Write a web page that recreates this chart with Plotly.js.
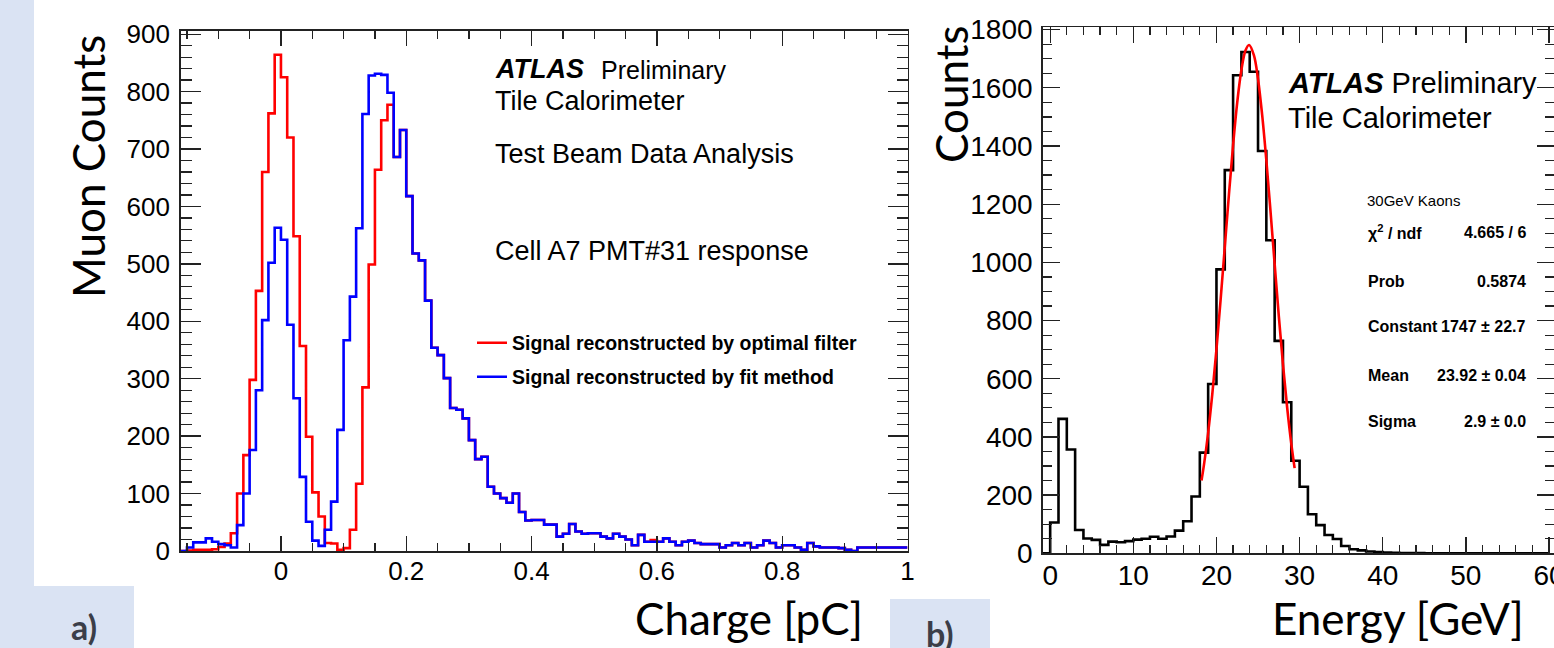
<!DOCTYPE html>
<html>
<head>
<meta charset="utf-8">
<script src="https://cdn.plot.ly/plotly-3.0.1.min.js"></script>
<style>
html,body{margin:0;padding:0;background:#fff;}
#chart{width:1554px;height:648px;}
</style>
</head>
<body>
<div id="chart"></div>
<script>
// ---------------- DATA ----------------
// Panel a: charge histograms, 0.01 pC bins starting at -0.16 pC
const chargeBinStart = -0.16;
const chargeBinWidth = 0.01;
const optimalFilterCounts = [
  0, 1, 2, 2, 2, 3, 7, 13, 31, 100, 167, 298, 453, 660, 762, 864,      // -0.16 .. -0.01
  825, 720, 548, 357, 199, 102, 60, 14, 13, 2,                         // 0.00 .. 0.09
  5, 37, 117, 285, 499, 664, 750, 777, 686, 733,                       // 0.10 .. 0.19
  618, 518, 506, 436, 354, 341, 301, 249, 246, 231,                    // 0.20 .. 0.29
  193, 160, 164, 112, 100, 92, 84, 100, 68, 53,                        // 0.30 .. 0.39
  54, 54, 46, 46, 25, 30, 47, 34, 30, 31,                              // 0.40 .. 0.49
  31, 25, 22, 30, 25, 20, 10, 28, 16, 19,                              // 0.50 .. 0.59
  16, 22, 16, 10, 16, 18, 14, 12, 12, 12,                              // 0.60 .. 0.69
  6, 10, 14, 10, 14, 6, 10, 18, 14, 6,                                 // 0.70 .. 0.79
  10, 10, 6, 2, 14, 8, 6, 6, 6, 5,                                     // 0.80 .. 0.89
  2, 0, 6, 6, 6, 6, 6, 6, 6, 6                                         // 0.90 .. 0.99
];
const fitMethodCounts = [
  0, 6, 15, 15, 22, 16, 12, 10, 6, 45, 100, 176, 280, 402, 502, 563,   // -0.16 .. -0.01
  542, 394, 266, 129, 51, 18, 9, 37, 86, 211,                          // 0.00 .. 0.09
  367, 443, 562, 761, 828, 831, 829, 798, 686, 733,                    // 0.10 .. 0.19
  618, 518, 506, 436, 354, 341, 301, 249, 246, 231,                    // 0.20 .. 0.29
  193, 160, 164, 112, 100, 92, 84, 100, 68, 53,                        // 0.30 .. 0.39
  54, 54, 46, 46, 25, 30, 47, 34, 30, 31,                              // 0.40 .. 0.49
  31, 25, 22, 30, 25, 20, 10, 28, 16, 16,                              // 0.50 .. 0.59
  16, 22, 16, 10, 16, 18, 14, 12, 12, 12,                              // 0.60 .. 0.69
  6, 10, 14, 10, 14, 6, 10, 18, 14, 6,                                 // 0.70 .. 0.79
  10, 10, 6, 2, 14, 8, 6, 6, 6, 5,                                     // 0.80 .. 0.89
  2, 0, 6, 6, 6, 6, 6, 6, 6, 6                                         // 0.90 .. 0.99
];
const seriesNames = ['Signal reconstructed by optimal filter', 'Signal reconstructed by fit method'];

// Panel b: energy histogram, 1 GeV bins starting at -1 GeV
const energyBinStart = -1;
const energyBinWidth = 1;
const energyCounts = [
  0, 106, 462, 357, 80, 51, 46, 29, 40, 38,          // -1 .. 8
  42, 47, 50, 57, 50, 58, 78, 110, 195, 346,         // 9 .. 18
  582, 976, 1317, 1643, 1723, 1655, 1383, 1076, 730, 519, // 19 .. 28
  318, 229, 134, 97, 63, 49, 25, 14, 10, 6,          // 29 .. 38
  4, 3, 2, 1, 1, 1, 0, 0, 0, 0,                      // 39 .. 48
  0, 0, 0, 0, 0, 0, 0, 0, 0, 0, 0                    // 49 .. 59
];
// Gaussian fit curve
const fitEnergy = [18.2, 18.5, 19, 19.5, 20, 20.5, 21, 21.5, 22, 22.5, 23, 23.5, 23.92, 24.5, 25, 25.5, 26, 26.5, 27, 27.5, 28, 28.5, 29, 29.4];
const fitCounts = [250, 305, 414, 547, 701, 872, 1052, 1233, 1403, 1550, 1661, 1729, 1747, 1712, 1630, 1506, 1351, 1176, 994, 815, 649, 502, 377, 293];

const chargeTicks = [0, 0.2, 0.4, 0.6, 0.8, 1];
const statsLabels = ['χ<sup>2</sup> / ndf', 'Prob', 'Constant', 'Mean', 'Sigma'];
const statsValues = ['4.665 / 6', '0.5874', '1747 ± 22.7', '23.92 ± 0.04', '2.9 ± 0.0'];

// ---------------- HELPERS ----------------
const W = 1554, H = 648;
const px = x => x / W;
const py = y => 1 - y / H;
function stepXY(start, width, counts) {
  const xs = counts.map((_, i) => start + i * width);
  xs.push(start + counts.length * width);
  const ys = counts.concat([counts[counts.length - 1]]);
  return {x: xs, y: ys};
}

const redStep = stepXY(chargeBinStart, chargeBinWidth, optimalFilterCounts);
const blueStep = stepXY(chargeBinStart, chargeBinWidth, fitMethodCounts);
const blackStep = stepXY(energyBinStart, energyBinWidth, energyCounts);

const traces = [
  {x: redStep.x, y: redStep.y, xaxis: 'x', yaxis: 'y', type: 'scatter', mode: 'lines',
   line: {shape: 'hv', color: '#ff0000', width: 2.6}, name: seriesNames[0], legend: 'legend', showlegend: true, hoverinfo: 'skip'},
  {x: blueStep.x, y: blueStep.y, xaxis: 'x', yaxis: 'y', type: 'scatter', mode: 'lines',
   line: {shape: 'hv', color: '#0000ff', width: 2.6}, name: seriesNames[1], legend: 'legend2', showlegend: true, hoverinfo: 'skip'},
  {x: blackStep.x, y: blackStep.y, xaxis: 'x2', yaxis: 'y2', type: 'scatter', mode: 'lines',
   line: {shape: 'hv', color: '#000000', width: 2.6}, showlegend: false, hoverinfo: 'skip'},
  {x: fitEnergy, y: fitCounts, xaxis: 'x2', yaxis: 'y2', type: 'scatter', mode: 'lines',
   line: {shape: 'spline', color: '#ff0000', width: 2.6}, showlegend: false, hoverinfo: 'skip'}
];

const tickFontA = {family: 'Liberation Sans, Arial, sans-serif', size: 26, color: '#000'};
const tickFontB = {family: 'Liberation Sans, Arial, sans-serif', size: 28, color: '#000'};
const axisCommon = {showline: true, linecolor: '#222', linewidth: 1.5, mirror: 'allticks', ticks: 'inside',
  tickcolor: '#222', tickwidth: 1.3, showgrid: false, zeroline: false, fixedrange: true, ticklabeloverflow: 'allow'};

const legendFont = {family: 'Liberation Sans, Arial, sans-serif', size: 19.5, color: '#000', weight: 'bold'};

const annFont = (size, extra) => Object.assign({family: 'Liberation Sans, Arial, sans-serif', size: size, color: '#000'}, extra || {});
const titleFont = {family: 'Lato, Noto Sans, sans-serif', size: 44, color: '#000'};

const annotations = [
  // panel a texts
  {x: px(493), y: py(69), text: '<b><i>ATLAS</i></b>', font: annFont(27), xanchor: 'left', yanchor: 'middle'},
  {x: px(599), y: py(70), text: 'Preliminary', font: annFont(25), xanchor: 'left', yanchor: 'middle'},
  {x: px(493), y: py(101), text: 'Tile Calorimeter', font: annFont(27), xanchor: 'left', yanchor: 'middle'},
  {x: px(493), y: py(154), text: 'Test Beam Data Analysis', font: annFont(27), xanchor: 'left', yanchor: 'middle'},
  {x: px(493), y: py(251), text: 'Cell A7 PMT#31 response', font: annFont(27), xanchor: 'left', yanchor: 'middle'},
  // panel b texts
  {x: px(1286), y: py(83), text: '<b><i>ATLAS</i></b> Preliminary', font: annFont(29), xanchor: 'left', yanchor: 'middle'},
  {x: px(1286), y: py(118), text: 'Tile Calorimeter', font: annFont(29), xanchor: 'left', yanchor: 'middle'},
  {x: px(1365), y: py(200), text: '30GeV Kaons', font: annFont(15), xanchor: 'left', yanchor: 'middle'},
  // axis titles
  {x: px(88), y: py(167), text: 'Muon Counts', textangle: -90, font: titleFont, xanchor: 'center', yanchor: 'middle'},
  {x: px(749), y: py(618), text: 'Charge [pC]', font: titleFont, xanchor: 'center', yanchor: 'middle'},
  {x: px(951), y: py(94), text: 'Counts', textangle: -90, font: titleFont, xanchor: 'center', yanchor: 'middle'},
  {x: px(1398), y: py(618), text: 'Energy [GeV]', font: titleFont, xanchor: 'center', yanchor: 'middle'},
  // panel labels
  {x: px(84), y: py(626), text: '<b>a)</b>', font: {family: 'Lato, sans-serif', size: 34, color: '#3b3e48'}, xanchor: 'center', yanchor: 'middle'},
  {x: px(940), y: py(611), text: '<b>b)</b>', font: {family: 'Lato, sans-serif', size: 34, color: '#3b3e48'}, xanchor: 'center', yanchor: 'top'}
];
const statsY = [232, 281, 326, 375, 421];
statsLabels.forEach((lab, i) => {
  annotations.push({x: px(1366), y: py(statsY[i]), text: '<b>' + lab + '</b>', font: annFont(16), xanchor: 'left', yanchor: 'middle'});
  annotations.push({x: px(1528), y: py(statsY[i]), text: '<b>' + statsValues[i] + '</b>', font: annFont(16), xanchor: 'right', yanchor: 'middle'});
});
annotations.forEach(a => { a.xref = 'paper'; a.yref = 'paper'; a.showarrow = false; });

const bgBlue = '#dae3f3';
const shapes = [
  {type: 'rect', xref: 'paper', yref: 'paper', x0: 0, x1: px(34), y0: py(586), y1: 1, fillcolor: bgBlue, line: {width: 0}, layer: 'below'},
  {type: 'rect', xref: 'paper', yref: 'paper', x0: 0, x1: px(134), y0: 0, y1: py(586), fillcolor: bgBlue, line: {width: 0}, layer: 'below'},
  {type: 'rect', xref: 'paper', yref: 'paper', x0: px(890), x1: px(990), y0: 0, y1: py(599), fillcolor: bgBlue, line: {width: 0}, layer: 'below'}
];

const layout = {
  width: W, height: H,
  margin: {l: 0, r: 0, t: 0, b: 0, pad: 0},
  paper_bgcolor: '#ffffff',
  plot_bgcolor: 'rgba(0,0,0,0)',
  showlegend: true,
  xaxis: Object.assign({}, axisCommon, {
    domain: [px(180.7), px(907.5)], anchor: 'y', range: [-0.16, 1.0],
    tickvals: chargeTicks, ticktext: chargeTicks.map(String), ticklen: 15,
    minor: {dtick: 0.05, tick0: 0, ticks: 'inside', ticklen: 8, tickcolor: '#222', tickwidth: 1.2},
    tickfont: tickFontA, ticklabelstandoff: -4
  }),
  yaxis: Object.assign({}, axisCommon, {
    domain: [py(551), py(30.7)], anchor: 'x', range: [0, 906],
    dtick: 100, tick0: 0, ticklen: 20,
    minor: {dtick: 20, tick0: 0, ticks: 'inside', ticklen: 11, tickcolor: '#222', tickwidth: 1.2},
    tickfont: tickFontA, ticklabelstandoff: 4
  }),
  xaxis2: Object.assign({}, axisCommon, {
    domain: [px(1042.7), 1], anchor: 'y2', range: [-0.9, 60.6],
    dtick: 10, tick0: 0, ticklen: 16,
    minor: {dtick: 2, tick0: 0, ticks: 'inside', ticklen: 8, tickcolor: '#222', tickwidth: 1.2},
    tickfont: tickFontB, ticklabelstandoff: -3
  }),
  yaxis2: Object.assign({}, axisCommon, {
    domain: [py(553.3), py(27)], anchor: 'x2', range: [0, 1809],
    dtick: 200, tick0: 0, ticklen: 17,
    minor: {dtick: 50, tick0: 0, ticks: 'inside', ticklen: 9, tickcolor: '#222', tickwidth: 1.2},
    tickfont: tickFontB, ticklabelstandoff: 3
  }),
  legend: {x: px(472), y: py(343), xanchor: 'left', yanchor: 'middle', bgcolor: 'rgba(0,0,0,0)',
           borderwidth: 0, font: legendFont, itemwidth: 30, tracegroupgap: 0},
  legend2: {x: px(472), y: py(377), xanchor: 'left', yanchor: 'middle', bgcolor: 'rgba(0,0,0,0)',
           borderwidth: 0, font: legendFont, itemwidth: 30, tracegroupgap: 0},
  annotations: annotations,
  shapes: shapes
};

Plotly.newPlot('chart', traces, layout, {staticPlot: true, displayModeBar: false});
</script>
</body>
</html>
